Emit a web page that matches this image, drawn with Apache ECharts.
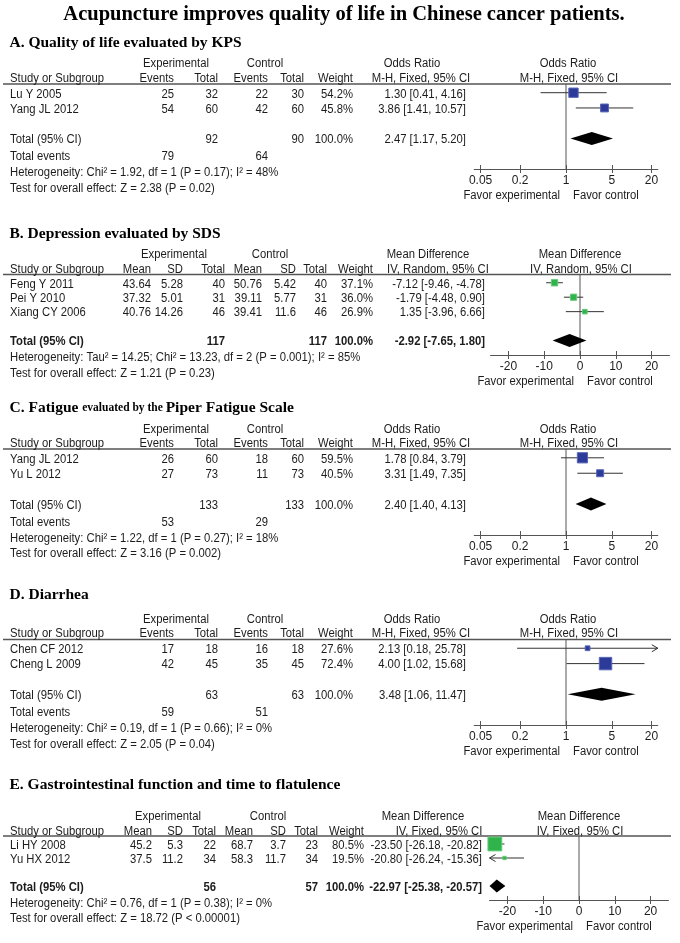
<!DOCTYPE html>
<html><head><meta charset="utf-8">
<script src="https://cdn.jsdelivr.net/npm/echarts@6/dist/echarts.min.js"></script>
<style>html,body{margin:0;padding:0;background:#fff}#c{width:680px;height:943px}</style>
</head><body><div id="c"></div>
<script>
// ---------------- DATA ----------------
const chartTitle = 'Acupuncture improves quality of life in Chinese cancer patients.';
const orTicks = [0.05, 0.2, 1, 5, 20];
const mdTicks = [-20, -10, 0, 10, 20];

// A. Quality of life (KPS) - Odds Ratio
const aStudies = ['Lu Y 2005', 'Yang JL 2012'];
const aExpEvents = [25, 54];
const aExpTotal = [32, 60];
const aCtlEvents = [22, 42];
const aCtlTotal = [30, 60];
const aWeight = [54.2, 45.8];
const aEst = [1.30, 3.86];
const aLow = [0.41, 1.41];
const aHigh = [4.16, 10.57];
const aTotalN = [92, 90];
const aTotalEvents = [79, 64];
const aPooled = [2.47, 1.17, 5.20];
const aHet = 'Heterogeneity: Chi² = 1.92, df = 1 (P = 0.17); I² = 48%';
const aTest = 'Test for overall effect: Z = 2.38 (P = 0.02)';

// B. Depression (SDS) - Mean Difference
const bStudies = ['Feng Y 2011', 'Pei Y 2010', 'Xiang CY 2006'];
const bExpMean = ['43.64', '37.32', '40.76'];
const bExpSD = ['5.28', '5.01', '14.26'];
const bExpTotal = [40, 31, 46];
const bCtlMean = ['50.76', '39.11', '39.41'];
const bCtlSD = ['5.42', '5.77', '11.6'];
const bCtlTotal = [40, 31, 46];
const bWeight = [37.1, 36.0, 26.9];
const bEst = [-7.12, -1.79, 1.35];
const bLow = [-9.46, -4.48, -3.96];
const bHigh = [-4.78, 0.90, 6.66];
const bTotalN = [117, 117];
const bPooled = [-2.92, -7.65, 1.80];
const bHet = 'Heterogeneity: Tau² = 14.25; Chi² = 13.23, df = 2 (P = 0.001); I² = 85%';
const bTest = 'Test for overall effect: Z = 1.21 (P = 0.23)';

// C. Fatigue (Piper) - Odds Ratio
const cStudies = ['Yang JL 2012', 'Yu L 2012'];
const cExpEvents = [26, 27];
const cExpTotal = [60, 73];
const cCtlEvents = [18, 11];
const cCtlTotal = [60, 73];
const cWeight = [59.5, 40.5];
const cEst = [1.78, 3.31];
const cLow = [0.84, 1.49];
const cHigh = [3.79, 7.35];
const cTotalN = [133, 133];
const cTotalEvents = [53, 29];
const cPooled = [2.40, 1.40, 4.13];
const cHet = 'Heterogeneity: Chi² = 1.22, df = 1 (P = 0.27); I² = 18%';
const cTest = 'Test for overall effect: Z = 3.16 (P = 0.002)';

// D. Diarrhea - Odds Ratio
const dStudies = ['Chen CF 2012', 'Cheng L 2009'];
const dExpEvents = [17, 42];
const dExpTotal = [18, 45];
const dCtlEvents = [16, 35];
const dCtlTotal = [18, 45];
const dWeight = [27.6, 72.4];
const dEst = [2.13, 4.00];
const dLow = [0.18, 1.02];
const dHigh = [25.78, 15.68];
const dTotalN = [63, 63];
const dTotalEvents = [59, 51];
const dPooled = [3.48, 1.06, 11.47];
const dHet = 'Heterogeneity: Chi² = 0.19, df = 1 (P = 0.66); I² = 0%';
const dTest = 'Test for overall effect: Z = 2.05 (P = 0.04)';

// E. Gastrointestinal function - Mean Difference
const eStudies = ['Li HY 2008', 'Yu HX 2012'];
const eExpMean = ['45.2', '37.5'];
const eExpSD = ['5.3', '11.2'];
const eExpTotal = [22, 34];
const eCtlMean = ['68.7', '58.3'];
const eCtlSD = ['3.7', '11.7'];
const eCtlTotal = [23, 34];
const eWeight = [80.5, 19.5];
const eEst = [-23.50, -20.80];
const eLow = [-26.18, -26.24];
const eHigh = [-20.82, -15.36];
const eTotalN = [56, 57];
const ePooled = [-22.97, -25.38, -20.57];
const eHet = 'Heterogeneity: Chi² = 0.76, df = 1 (P = 0.38); I² = 0%';
const eTest = 'Test for overall effect: Z = 18.72 (P < 0.00001)';

// ---------------- LAYOUT ----------------
const FONT = '"Liberation Sans", Arial, sans-serif';
const SERIF = '"Liberation Serif", "Times New Roman", serif';
const TXT = '#1c1c1c';
const FS = 12;
const SX = 0.94;

const orLayout = {
  h1: [['Experimental', 176], ['Control', 265]],
  h2: [['Events', 174], ['Total', 218], ['Events', 268], ['Total', 304], ['Weight', 353]],
  ciHead: ['Odds Ratio', 412], method: ['M-H, Fixed, 95% CI', 421], ciRight: 466
};
const bLayout = {
  h1: [['Experimental', 174], ['Control', 270]],
  h2: [['Mean', 151], ['SD', 183], ['Total', 225], ['Mean', 262], ['SD', 296], ['Total', 327], ['Weight', 373]],
  ciHead: ['Mean Difference', 428], method: ['IV, Random, 95% CI', 438], ciRight: 485
};
const eLayout = {
  h1: [['Experimental', 168], ['Control', 268]],
  h2: [['Mean', 152], ['SD', 183], ['Total', 216], ['Mean', 253], ['SD', 286], ['Total', 318], ['Weight', 364]],
  ciHead: ['Mean Difference', 423], method: ['IV, Fixed, 95% CI', 439], ciRight: 482
};

const panels = [
  {type: 'or', lay: orLayout, heading: 'A. Quality of life evaluated by KPS', headY: 43, h1Y: 64, h2Y: 79, lineY: 84, axisY: 169,
   plotLeft: 474.2, plotWidth: 183.6, plotHead: 569, plotHeadTxt: 'Odds Ratio', boldTotal: false,
   studies: aStudies, cols: [aExpEvents, aExpTotal, aCtlEvents, aCtlTotal], weight: aWeight, est: aEst, low: aLow, high: aHigh,
   totalN: aTotalN, totalEvents: aTotalEvents, pooled: aPooled, het: aHet, test: aTest},
  {type: 'md', lay: bLayout, heading: 'B. Depression evaluated by SDS', headY: 234, h1Y: 255, h2Y: 269.5, lineY: 274.5, axisY: 355,
   plotLeft: 490.5, plotWidth: 179, plotHead: 581, plotHeadTxt: 'Mean Difference', boldTotal: true,
   studies: bStudies, cols: [bExpMean, bExpSD, bExpTotal, bCtlMean, bCtlSD, bCtlTotal], weight: bWeight, est: bEst, low: bLow, high: bHigh,
   totalN: bTotalN, totalEvents: null, pooled: bPooled, het: bHet, test: bTest},
  {type: 'or', lay: orLayout, heading: null, headY: 408, h1Y: 429.5, h2Y: 444, lineY: 449, axisY: 535,
   plotLeft: 474.2, plotWidth: 183.6, plotHead: 569, plotHeadTxt: 'Odds Ratio', boldTotal: false,
   studies: cStudies, cols: [cExpEvents, cExpTotal, cCtlEvents, cCtlTotal], weight: cWeight, est: cEst, low: cLow, high: cHigh,
   totalN: cTotalN, totalEvents: cTotalEvents, pooled: cPooled, het: cHet, test: cTest},
  {type: 'or', lay: orLayout, heading: 'D. Diarrhea', headY: 595, h1Y: 619.5, h2Y: 634, lineY: 639.5, axisY: 725,
   plotLeft: 474.2, plotWidth: 183.6, plotHead: 569, plotHeadTxt: 'Odds Ratio', boldTotal: false,
   studies: dStudies, cols: [dExpEvents, dExpTotal, dCtlEvents, dCtlTotal], weight: dWeight, est: dEst, low: dLow, high: dHigh,
   totalN: dTotalN, totalEvents: dTotalEvents, pooled: dPooled, het: dHet, test: dTest},
  {type: 'md', lay: eLayout, heading: 'E. Gastrointestinal function and time to flatulence', headY: 785, h1Y: 816.5, h2Y: 831.5, lineY: 836, axisY: 900,
   plotLeft: 489.5, plotWidth: 179, plotHead: 580, plotHeadTxt: 'Mean Difference', boldTotal: true,
   studies: eStudies, cols: [eExpMean, eExpSD, eExpTotal, eCtlMean, eCtlSD, eCtlTotal], weight: eWeight, est: eEst, low: eLow, high: eHigh,
   totalN: eTotalN, totalEvents: null, pooled: ePooled, het: eHet, test: eTest}
];

// ---------------- BUILD ----------------
const graphics = [];
function txt(x, y, text, align, extra, noScale) {
  graphics.push({type: 'text', x: x, y: y, scaleX: noScale ? 1 : SX, silent: true, z: 10,
    style: Object.assign({text: String(text), fill: TXT, fontSize: FS, fontFamily: FONT, align: align || 'left', verticalAlign: 'middle'}, extra || {})});
}
const f2 = v => v.toFixed(2);
const ciStr = (e, l, h) => `${f2(e)} [${f2(l)}, ${f2(h)}]`;

txt(344, 15, chartTitle, 'center', {fontSize: 20.5, fontFamily: SERIF, fontWeight: 'bold', fill: '#000'}, true);

const grids = [], xAxes = [], yAxes = [], series = [];
const YMIN = -0.57;

panels.forEach((p, i) => {
  const isOR = p.type === 'or';
  const tf = v => isOR ? Math.log10(v) : v;
  const xmin = isOR ? Math.log10(0.04) : -25;
  const xmax = isOR ? Math.log10(25) : 25;
  const ticks = isOR ? orTicks : mdTicks;
  const tv = ticks.map(tf);
  const n = p.studies.length;
  const totIdx = n + 1;
  const ymax = totIdx + (isOR ? 2 : 1);
  const rowPix = idx => p.lineY + (idx - YMIN) / (ymax - YMIN) * (p.axisY - p.lineY);
  const nullPix = p.plotLeft + (tf(isOR ? 1 : 0) - xmin) / (xmax - xmin) * p.plotWidth;

  // heading
  if (p.heading) {
    txt(9.5, p.headY, p.heading, 'left', {fontSize: 15.5, fontFamily: SERIF, fontWeight: 'bold', fill: '#000'}, true);
  } else {
    graphics.push({type: 'text', x: 9.5, y: p.headY, silent: true, style: {
      text: '{a|C. Fatigue }{b|evaluated by the }{a|Piper Fatigue Scale}', verticalAlign: 'middle', align: 'left',
      rich: {a: {fontSize: 15.5, fontFamily: SERIF, fontWeight: 'bold', fill: '#000'},
             b: {fontSize: 11.5, fontFamily: SERIF, fontWeight: 'bold', fill: '#000'}}}});
  }
  // header rows
  p.lay.h1.forEach(([s, x]) => txt(x, p.h1Y, s, 'center'));
  txt(p.lay.ciHead[1], p.h1Y, p.lay.ciHead[0], 'center');
  txt(p.plotHead - 1, p.h1Y, p.plotHeadTxt, 'center');
  txt(10, p.h2Y, 'Study or Subgroup', 'left');
  p.lay.h2.forEach(([s, x]) => txt(x, p.h2Y, s, 'right'));
  txt(p.lay.method[1], p.h2Y, p.lay.method[0], 'center');
  txt(p.plotHead, p.h2Y, p.lay.method[0], 'center');
  graphics.push({type: 'line', silent: true, shape: {x1: 3, y1: p.lineY, x2: 671, y2: p.lineY}, style: {stroke: '#555', lineWidth: 1.5}});

  const colR = p.lay.h2.map(h => h[1]);
  // study rows
  p.studies.forEach((s, k) => {
    const y = rowPix(k) + 1.5;
    txt(10, y, s, 'left');
    p.cols.forEach((col, c) => txt(colR[c], y, col[k], 'right'));
    txt(colR[colR.length - 1], y, p.weight[k].toFixed(1) + '%', 'right');
    txt(p.lay.ciRight, y, ciStr(p.est[k], p.low[k], p.high[k]), 'right');
  });
  // total row
  const ty = rowPix(totIdx) + 1.5;
  const B = p.boldTotal ? {fontWeight: 'bold'} : {};
  txt(10, ty, 'Total (95% CI)', 'left', B);
  const expTotCol = isOR ? 1 : 2, ctlTotCol = isOR ? 3 : 5;
  txt(colR[expTotCol], ty, p.totalN[0], 'right', B);
  txt(colR[ctlTotCol], ty, p.totalN[1], 'right', B);
  txt(colR[colR.length - 1], ty, '100.0%', 'right', B);
  txt(p.lay.ciRight, ty, ciStr(p.pooled[0], p.pooled[1], p.pooled[2]), 'right', B);
  let y2 = ty;
  if (p.totalEvents) {
    y2 = ty + 17;
    txt(10, y2, 'Total events', 'left');
    txt(colR[0], y2, p.totalEvents[0], 'right');
    txt(colR[2], y2, p.totalEvents[1], 'right');
  }
  txt(10, y2 + 16, p.het, 'left');
  txt(10, y2 + 31.5, p.test, 'left');
  // favour labels
  txt(nullPix - 6, p.axisY + 27, 'Favor experimental', 'right');
  txt(nullPix + 7, p.axisY + 27, 'Favor control', 'left');

  // grid & axes
  grids.push({left: p.plotLeft, width: p.plotWidth, top: p.lineY, height: p.axisY - p.lineY, containLabel: false, outerBoundsMode: 'none'});
  yAxes.push({gridIndex: i, type: 'value', inverse: true, min: YMIN, max: ymax, show: false});
  const labelFmt = v => { let k = 0, b = Infinity; tv.forEach((q, j) => { const d = Math.abs(q - v); if (d < b) { b = d; k = j; } }); return String(ticks[k]); };
  xAxes.push({gridIndex: i, type: 'value', min: xmin, max: xmax, position: 'bottom',
    axisLine: {show: true, onZero: false, lineStyle: {color: '#555', width: 1}},
    axisTick: {show: true, length: 4, customValues: tv, lineStyle: {color: '#555'}},
    axisLabel: {show: true, customValues: tv, margin: 6, fontSize: 12, fontFamily: FONT, color: TXT, formatter: labelFmt},
    splitLine: {show: false}});
  xAxes.push({gridIndex: i, type: 'value', min: xmin, max: xmax, position: 'bottom',
    axisLine: {show: false, onZero: false},
    axisTick: {show: true, inside: true, length: 4, customValues: tv, lineStyle: {color: '#555'}},
    axisLabel: {show: false}, splitLine: {show: false}});

  const xi = 2 * i;
  // null line
  series.push({type: 'line', xAxisIndex: xi, yAxisIndex: i, silent: true, symbol: 'none', animation: false,
    data: [[tf(isOR ? 1 : 0), YMIN], [tf(isOR ? 1 : 0), ymax]], lineStyle: {color: '#555', width: 1}, z: 1});

  const fill = isOR ? '#2c3a99' : '#2fb34b';
  const edge = isOR ? '#5866b5' : '#67c978';
  const studyData = p.studies.map((s, k) => {
    const lo = tf(p.low[k]), hi = tf(p.high[k]);
    return [tf(p.est[k]), k, Math.max(lo, xmin), Math.min(hi, xmax), p.weight[k] * 0.172, lo < xmin ? 1 : 0, hi > xmax ? 1 : 0];
  });
  series.push({type: 'custom', xAxisIndex: xi, yAxisIndex: i, silent: true, animation: false, z: 3, data: studyData,
    renderItem: (params, api) => {
      const yv = api.value(1);
      const c = api.coord([api.value(0), yv]);
      const l = api.coord([api.value(2), yv]);
      const h = api.coord([api.value(3), yv]);
      const s = api.value(4);
      const ch = [{type: 'line', shape: {x1: l[0], y1: l[1], x2: h[0], y2: h[1]}, style: {stroke: '#333', lineWidth: 1}}];
      if (api.value(5)) ch.push({type: 'polyline', shape: {points: [[l[0] + 6, l[1] - 3.5], [l[0], l[1]], [l[0] + 6, l[1] + 3.5]]}, style: {stroke: '#333', fill: null, lineWidth: 1}});
      if (api.value(6)) ch.push({type: 'polyline', shape: {points: [[h[0] - 6, h[1] - 3.5], [h[0], h[1]], [h[0] - 6, h[1] + 3.5]]}, style: {stroke: '#333', fill: null, lineWidth: 1}});
      ch.push({type: 'rect', shape: {x: c[0] - s / 2, y: c[1] - s / 2, width: s, height: s}, style: {fill: fill, stroke: edge, lineWidth: 1}});
      return {type: 'group', children: ch};
    }});
  // pooled diamond
  series.push({type: 'custom', xAxisIndex: xi, yAxisIndex: i, silent: true, animation: false, z: 3,
    data: [[tf(p.pooled[0]), totIdx, Math.max(tf(p.pooled[1]), xmin), Math.min(tf(p.pooled[2]), xmax)]],
    renderItem: (params, api) => {
      const yv = api.value(1);
      const c = api.coord([api.value(0), yv]);
      const l = api.coord([api.value(2), yv]);
      const h = api.coord([api.value(3), yv]);
      return {type: 'polygon', shape: {points: [[l[0], c[1]], [c[0], c[1] - 6.5], [h[0], c[1]], [c[0], c[1] + 6.5]]}, style: {fill: '#000'}};
    }});
});

const chart = echarts.init(document.getElementById('c'), null, {renderer: 'canvas'});
chart.setOption({
  backgroundColor: '#fff',
  animation: false,
  grid: grids, xAxis: xAxes, yAxis: yAxes, series: series,
  graphic: {elements: graphics}
});
</script></body></html>
